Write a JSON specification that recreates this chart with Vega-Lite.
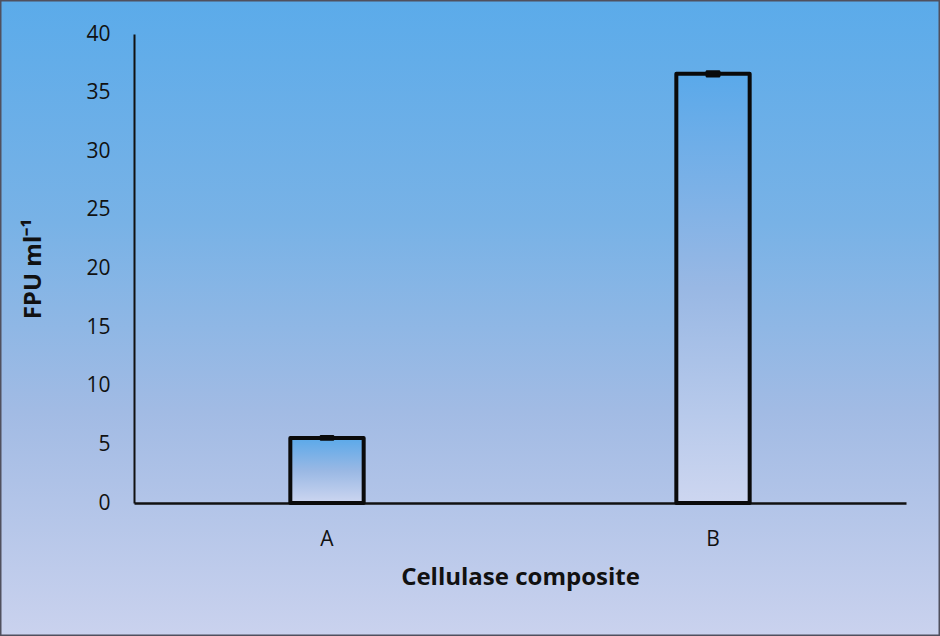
{
  "$schema": "https://vega.github.io/schema/vega-lite/v6.json",
  "width": 940,
  "height": 636,
  "autosize": {"type": "none"},
  "padding": 0,
  "background": "#9fb8e4",
  "config": {
    "font": "Open Sans",
    "view": {
      "fill": {
        "gradient": "linear", "x1": 0, "y1": 0, "x2": 0, "y2": 1,
        "stops": [
          {"offset": 0, "color": "#5babea"},
          {"offset": 0.35, "color": "#78b2e6"},
          {"offset": 0.65, "color": "#a2bbe4"},
          {"offset": 1, "color": "#cad2ee"}
        ]
      },
      "stroke": "#50505e",
      "strokeWidth": 3
    }
  },
  "data": {
    "values": [
      {"composite": "A", "fpu": 5.55, "lo": 5.3, "hi": 5.8},
      {"composite": "B", "fpu": 36.6, "lo": 36.3, "hi": 36.9}
    ]
  },
  "encoding": {
    "x": {
      "field": "composite",
      "type": "nominal",
      "scale": {"range": [134, 906], "paddingInner": 0.81, "paddingOuter": 0.405},
      "axis": {
        "title": "Cellulase composite",
        "labelAngle": 0,
        "offset": -133,
        "ticks": false,
        "tickSize": 0,
        "labelPadding": 25,
        "labelFontSize": 21,
        "labelColor": "#111",
        "domainColor": "#111",
        "domainWidth": 2.5,
        "titleFontSize": 24,
        "titleFontWeight": "bold",
        "titleColor": "#111",
        "titlePadding": 16
      }
    }
  },
  "layer": [
    {
      "mark": {
        "type": "bar",
        "stroke": "#0a0a0a",
        "strokeWidth": 4,
        "strokeJoin": "round",
        "fill": {
          "gradient": "linear", "x1": 0, "y1": 0, "x2": 0, "y2": 1,
          "stops": [
            {"offset": 0, "color": "#5aa9ea"},
            {"offset": 0.5, "color": "#99b8e4"},
            {"offset": 1, "color": "#cdd6f0"}
          ]
        }
      },
      "encoding": {
        "y": {
          "field": "fpu",
          "type": "quantitative",
          "scale": {"domain": [0, 40], "range": [503, 34], "nice": false},
          "axis": {
            "title": "FPU ml⁻¹",
            "values": [0, 5, 10, 15, 20, 25, 30, 35, 40],
            "grid": false,
            "offset": -134,
            "ticks": false,
            "tickSize": 0,
            "labelPadding": 24,
            "labelFontSize": 21,
            "labelColor": "#111",
            "domainColor": "#111",
            "domainWidth": 2,
            "titleFontSize": 24,
            "titleFontWeight": "bold",
            "titleColor": "#111",
            "titlePadding": 40
          }
        }
      }
    },
    {
      "mark": {"type": "bar", "color": "#0a0a0a", "size": 15, "cornerRadius": 1.5},
      "encoding": {
        "y": {"field": "lo", "type": "quantitative"},
        "y2": {"field": "hi"}
      }
    }
  ]
}
